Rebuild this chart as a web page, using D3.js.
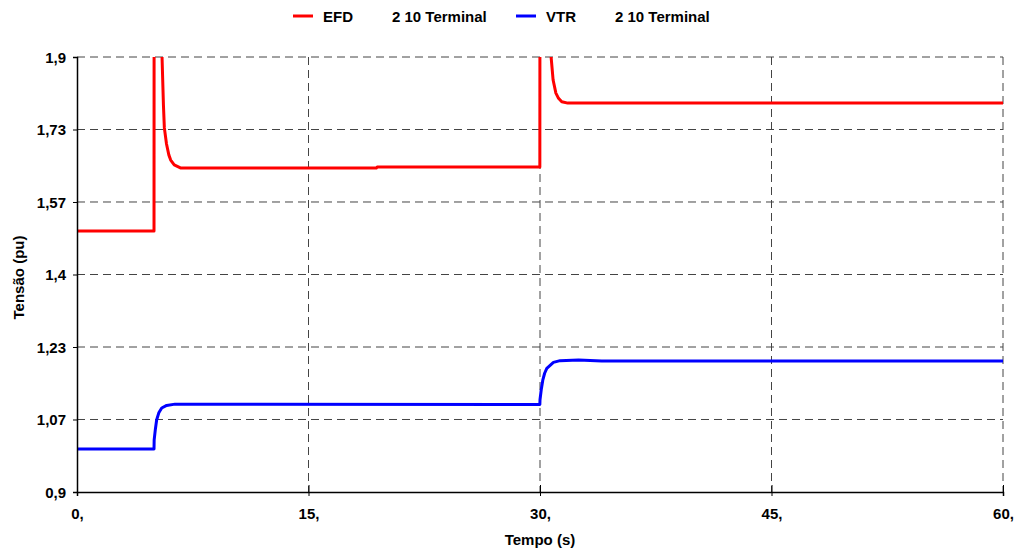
<!DOCTYPE html>
<html>
<head>
<meta charset="utf-8">
<script src="https://cdn.jsdelivr.net/npm/d3@7"></script>
<style>
  body { margin: 0; background: #fff; }
  text { font-family: "Liberation Sans", Arial, sans-serif; font-weight: bold; }
</style>
</head>
<body>
<div class="canvas"></div>
<script>
// DATA
const xTicks = [0, 15, 30, 45, 60];
const xTickLabels = ['0,', '15,', '30,', '45,', '60,'];
const yTicks = [0.9, 1.0667, 1.2333, 1.4, 1.5667, 1.7333, 1.9];
const yTickLabels = ['0,9', '1,07', '1,23', '1,4', '1,57', '1,73', '1,9'];

const efdTime = [0, 4.99, 5.0, 5.45, 5.51, 5.6, 5.66, 5.8, 5.95, 6.07, 6.3, 6.7, 19.4, 19.45, 29.99, 30.0, 30.66, 30.72, 30.85, 31.03, 31.2, 31.41, 31.8, 60];
const efdValues = [1.5, 1.5, 2.3, 2.3, 1.9, 1.79, 1.737, 1.7, 1.675, 1.663, 1.652, 1.645, 1.645, 1.647, 1.647, 2.3, 2.3, 1.9, 1.847, 1.817, 1.805, 1.797, 1.794, 1.794];

const vtrTime = [0, 4.99, 5.0, 5.08, 5.16, 5.3, 5.49, 5.81, 6.35, 29.99, 30.0, 30.08, 30.18, 30.3, 30.44, 30.87, 31.3, 32.5, 34.0, 60];
const vtrValues = [0.999, 0.999, 1.02, 1.045, 1.0655, 1.082, 1.093, 1.099, 1.102, 1.101, 1.112, 1.135, 1.157, 1.173, 1.1843, 1.198, 1.202, 1.2035, 1.201, 1.201];

const legendNames = ['EFD', 'VTR'];
const legendSub = ['2 10 Terminal', '2 10 Terminal'];
const seriesColors = ['#ff0000', '#0000ff'];

// SETUP
const width = 1016, height = 550;
const margin = { top: 57, right: 13, bottom: 58, left: 77 };
const innerW = width - margin.left - margin.right;
const innerH = height - margin.top - margin.bottom;
const fontSize = '15px';

const svg = d3.select('.canvas').append('svg')
  .attr('width', width)
  .attr('height', height);

const graph = svg.append('g')
  .attr('transform', `translate(${margin.left}, ${margin.top})`);

const x = d3.scaleLinear().domain([0, 60]).range([0, innerW]);
const y = d3.scaleLinear().domain([0.9, 1.9]).range([innerH, 0]);

// GRID
graph.append('g').selectAll('line')
  .data(yTicks.slice(1))
  .join('line')
  .attr('x1', 0).attr('x2', innerW)
  .attr('y1', d => y(d)).attr('y2', d => y(d))
  .attr('stroke', '#444')
  .attr('stroke-width', 1)
  .attr('stroke-dasharray', '8,5');

graph.append('g').selectAll('line')
  .data(xTicks.slice(1))
  .join('line')
  .attr('x1', d => x(d)).attr('x2', d => x(d))
  .attr('y1', 0).attr('y2', innerH)
  .attr('stroke', '#444')
  .attr('stroke-width', 1)
  .attr('stroke-dasharray', '8,5');

// LINES
svg.append('defs').append('clipPath').attr('id', 'clip')
  .append('rect').attr('x', -2).attr('y', 0).attr('width', innerW + 4).attr('height', innerH);

const line = d3.line().x(d => x(d[0])).y(d => y(d[1]));

const series = [
  d3.zip(efdTime, efdValues),
  d3.zip(vtrTime, vtrValues)
];

graph.append('g').attr('clip-path', 'url(#clip)')
  .selectAll('path')
  .data(series)
  .join('path')
  .attr('d', line)
  .attr('fill', 'none')
  .attr('stroke', (d, i) => seriesColors[i])
  .attr('stroke-width', 3)
  .attr('stroke-linejoin', 'round');

// AXES
const xAxis = d3.axisBottom(x)
  .tickValues(xTicks)
  .tickFormat((d, i) => xTickLabels[i])
  .tickSize(4)
  .tickPadding(12);

const yAxis = d3.axisLeft(y)
  .tickValues(yTicks)
  .tickFormat((d, i) => yTickLabels[i])
  .tickSize(4)
  .tickPadding(7);

const gx = graph.append('g')
  .attr('transform', `translate(0, ${innerH})`)
  .call(xAxis);
const gy = graph.append('g').call(yAxis);

// x ticks cross the axis line
gx.selectAll('.tick line').attr('y1', -7);

[gx, gy].forEach(g => {
  g.select('.domain').attr('stroke', '#000').attr('stroke-width', 1.5);
  g.selectAll('.tick line').attr('stroke', '#000');
  g.selectAll('.tick text')
    .attr('fill', '#000')
    .style('font-size', fontSize)
    .style('font-family', '"Liberation Sans", Arial, sans-serif')
    .style('font-weight', 'bold');
});
gy.selectAll('.tick text').attr('dy', '0.35em');

// AXIS TITLES
svg.append('text')
  .attr('x', margin.left + innerW / 2)
  .attr('y', 545)
  .attr('text-anchor', 'middle')
  .style('font-size', fontSize)
  .text('Tempo (s)');

svg.append('text')
  .attr('transform', `translate(24, ${margin.top + innerH / 2 + 3}) rotate(-90)`)
  .attr('text-anchor', 'middle')
  .style('font-size', fontSize)
  .text('Tensão (pu)');

// LEGEND
const legendX = [293, 516];
const legend = svg.append('g').selectAll('g')
  .data(legendNames)
  .join('g')
  .attr('transform', (d, i) => `translate(${legendX[i]}, 16)`);

legend.append('line')
  .attr('x1', 0).attr('x2', 20)
  .attr('stroke', (d, i) => seriesColors[i])
  .attr('stroke-width', 3);

legend.append('text')
  .attr('x', 30).attr('y', 5.5)
  .style('font-size', fontSize)
  .text(d => d);

legend.append('text')
  .attr('x', 99).attr('y', 5.5)
  .style('font-size', fontSize)
  .text((d, i) => legendSub[i]);
</script>
</body>
</html>
